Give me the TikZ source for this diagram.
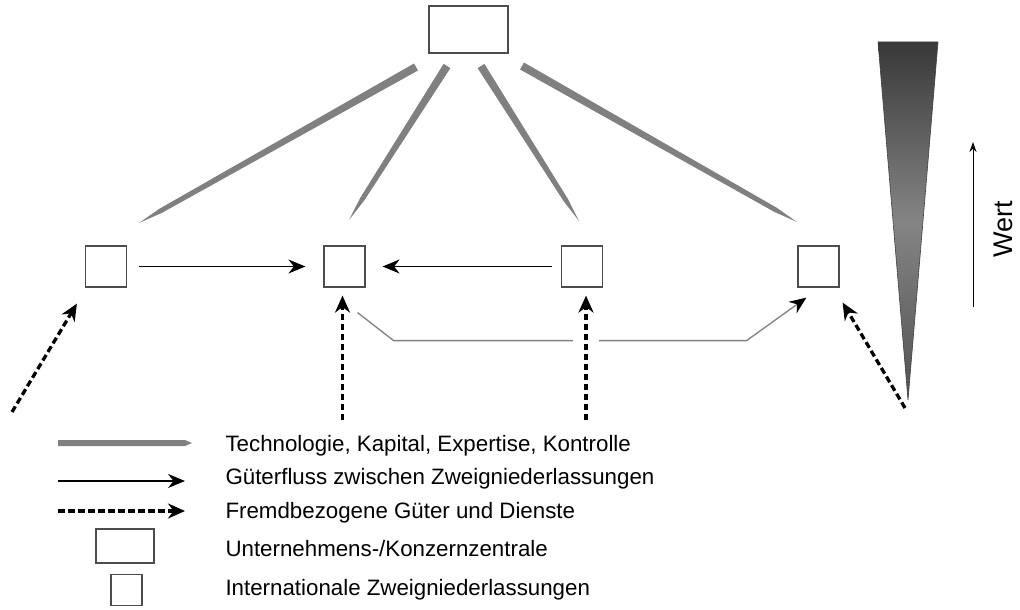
\documentclass[tikz,border=0pt]{standalone}
\usepackage{fontspec}
\setmainfont{Liberation Sans}
\usetikzlibrary{arrows.meta,calc}

\definecolor{flowgray}{HTML}{808080}

% tapered flow from the head office: flat start, slim body, pointed end
\newcommand{\taper}[2]{%
  \path ($(#2)!25pt!(#1)$) coordinate (tp);
  \fill[flowgray] ($(#1)!4pt!90:(#2)$) -- ($(tp)!2.4pt!-90:(#1)$) -- (#2)
    -- ($(tp)!2.4pt!90:(#1)$) -- ($(#1)!4pt!-90:(#2)$) -- cycle;}

\begin{document}
\begin{tikzpicture}[x=1pt,y=-1pt,
    hq/.style={draw=black!70,line width=1.2pt,minimum width=79pt,minimum height=47pt,inner sep=0pt},
    sub/.style={draw=black!70,line width=1.2pt,minimum size=41pt,inner sep=0pt},
    goods/.style={line width=1.1pt,-{Stealth[length=17pt,width=14pt]}},
    extern/.style={line width=3.3pt,dash pattern=on 6.5pt off 3.5pt,-{Stealth[length=17pt,width=15pt]}},
    link/.style={draw=flowgray,line width=1.3pt,-{Stealth[length=17pt,width=14pt,black]}},
    legtext/.style={anchor=base west,font=\fontsize{22.3}{24}\selectfont}]
\useasboundingbox (0,0) rectangle (1020,610);

% offices
\node[hq]  (hq) at (468.5,29.5) {};
\node[sub] (s1) at (106,266.5) {};
\node[sub] (s2) at (344.5,266.5) {};
\node[sub] (s3) at (582,266.5) {};
\node[sub] (s4) at (818.5,266.5) {};

% technology, capital, expertise, control
\coordinate (t1) at (416,67);  \coordinate (e1) at (139,223);
\coordinate (t2) at (447,66);  \coordinate (e2) at (349,220);
\coordinate (t3) at (481,66);  \coordinate (e3) at (579,221);
\coordinate (t4) at (522,66);  \coordinate (e4) at (797,222);
\taper{t1}{e1}
\taper{t2}{e2}
\taper{t3}{e3}
\taper{t4}{e4}

% flows between subsidiaries
\draw[goods,shorten <=12pt,shorten >=18pt] (s1) -- (s2);
\draw[goods,shorten <=9pt,shorten >=17pt] (s3) -- (s2);
\draw[link] ($(s2.south east)+(-8,25)$) -- ++(36,28) -- ++(353,0) -- ($(s4.south west)+(9,10)$);

% bought-in goods and services
\coordinate (x1) at (12,412);
\coordinate (x2) at (342.5,420);
\coordinate (x3) at (586,420);
\coordinate (x4) at (905,408);
\draw[extern] (x1) -- ($(s1.south west)+(-8,16)$);
\draw[extern,shorten >=8pt] (x2) -- (x2 |- s2.south);
\draw[extern,shorten >=8pt,preaction={draw=white,solid,line width=26pt,-}] (x3) -- (x3 |- s3.south);
\draw[extern] (x4) -- ($(s4.south east)+(3,15)$);

% value wedge
\shade[top color=black!78,bottom color=black!68,middle color=black!48,draw=black!75,line width=0.6pt]
  (878,42) -- (938,42) -- (908,400) -- cycle;
\coordinate (v0) at (973,307);
\coordinate (v1) at (973,142);
\draw[line width=1pt,-{Stealth[length=10pt,width=7pt]}] (v0) -- (v1);
\node[rotate=90,font=\fontsize{27}{30}\selectfont] (wert) at (1003,229) {Wert};

% legend
\coordinate (l1a) at (58,443);  \coordinate (l1b) at (192,443);
\fill[flowgray] ($(l1a)+(0,-3)$) -- ($(l1b)+(-7,-3)$) -- (l1b) -- ($(l1b)+(-7,3)$) -- ($(l1a)+(0,3)$) -- cycle;
\coordinate (l2a) at (58,481);  \coordinate (l2b) at (185,481);
\draw[goods] (l2a) -- (l2b);
\coordinate (l3a) at (58,511);  \coordinate (l3b) at (185,511);
\draw[extern] (l3a) -- (l3b);
\node[hq,minimum width=58pt,minimum height=34pt] (lhq) at (125,546) {};
\node[sub,minimum size=31pt] (lsub) at (126.5,590) {};

\node[legtext] (txt1) at (222,451) {Technologie, Kapital, Expertise, Kontrolle};
\node[legtext] (txt2) at (222,484) {Güterfluss zwischen Zweigniederlassungen};
\node[legtext] (txt3) at (222,518) {Fremdbezogene Güter und Dienste};
\node[legtext] (txt4) at (222,556) {Unternehmens-/Konzernzentrale};
\node[legtext] (txt5) at (222,595) {Internationale Zweigniederlassungen};
\end{tikzpicture}
\end{document}
